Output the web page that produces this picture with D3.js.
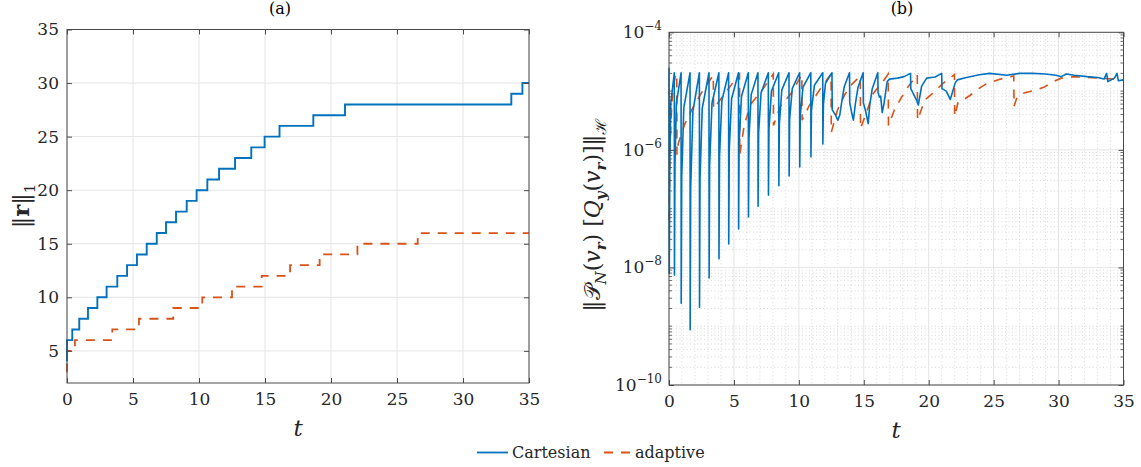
<!DOCTYPE html>
<html>
<head>
<meta charset="utf-8">
<script src="https://cdn.jsdelivr.net/npm/d3@7"></script>
<style>
  body { margin: 0; background: #fff; }
  svg text { font-family: "DejaVu Serif", "Liberation Serif", "Times New Roman", Times, "Noto Serif", serif; }
</style>
</head>
<body>
<svg width="1141" height="467"></svg>
<script>
// ---- data ----
// (a) number of terms ||r||_1 : step change times and levels
const cartStepT = [0, 0, 0.4, 0.93, 1.59, 2.3, 3.0, 3.81, 4.55, 5.3, 6.04, 6.8, 7.5, 8.26, 9.07, 9.82, 10.63, 11.52, 12.73, 13.96, 14.97, 16.1, 18.66, 21.06, 33.66, 34.5, 35];
const cartStepN = [4, 6, 7, 8, 9, 10, 11, 12, 13, 14, 15, 16, 17, 18, 19, 20, 21, 22, 23, 24, 25, 26, 27, 28, 29, 30, 30];
const adaptStepT = [0, 0, 0.6, 3.43, 5.45, 8.05, 10.25, 12.5, 14.75, 16.9, 19.14, 22.0, 26.57, 35];
const adaptStepN = [3, 5, 6, 7, 8, 9, 10, 11, 12, 13, 14, 15, 16, 16];

// (b) residual norm, [t, value]
const cartErr = [
  [0, 2.5e-5], [0.02, 7.9e-9], [0.06, 6.0e-7], [0.14, 6.3e-6], [0.41, 2.05e-5],
  [0.42, 7.4e-9], [0.46, 5.8e-7], [0.57, 6.2e-6], [0.93, 2.05e-5],
  [0.94, 2.45e-9], [0.98, 3.5e-7], [1.14, 5.2e-6], [1.62, 2.05e-5],
  [1.63, 8.7e-10], [1.67, 2.2e-7], [1.84, 4.5e-6], [2.34, 2.05e-5],
  [2.35, 2.1e-9], [2.39, 3.3e-7], [2.56, 5.1e-6], [3.08, 2.05e-5],
  [3.09, 6.6e-9], [3.13, 5.5e-7], [3.31, 6.2e-6], [3.84, 2.05e-5],
  [3.85, 1.4e-8], [3.89, 7.6e-7], [4.07, 6.8e-6], [4.59, 2.05e-5],
  [4.60, 2.5e-8], [4.64, 1.0e-6], [4.82, 7.4e-6], [5.35, 2.05e-5],
  [5.36, 4.5e-8], [5.40, 1.3e-6], [5.58, 8.1e-6], [6.11, 2.05e-5],
  [6.12, 7.2e-8], [6.16, 1.6e-6], [6.33, 8.7e-6], [6.85, 2.05e-5],
  [6.86, 1.1e-7], [6.90, 1.95e-6], [7.09, 9.3e-6], [7.65, 2.05e-5],
  [7.66, 1.7e-7], [7.70, 2.3e-6], [7.89, 1.0e-5], [8.45, 2.05e-5],
  [8.46, 2.45e-7], [8.50, 2.8e-6], [8.69, 1.05e-5], [9.24, 2.05e-5],
  [9.25, 3.6e-7], [9.29, 3.3e-6], [9.49, 1.1e-5], [10.06, 2.05e-5],
  [10.07, 5.1e-7], [10.11, 3.9e-6], [10.32, 1.17e-5], [10.92, 2.05e-5],
  [10.93, 7.6e-7], [10.97, 4.7e-6], [11.2, 1.26e-5], [11.84, 2.05e-5],
  [11.85, 1.26e-6], [11.89, 5.9e-6], [12.05, 1.35e-5], [12.55, 2.05e-5],
  [12.57, 4.8e-6], [12.8, 4.0e-6], [13.0, 3.2e-6], [13.15, 3.9e-6], [13.3, 6.5e-6], [13.5, 1.2e-5], [13.9, 2.05e-5],
  [13.92, 6.3e-6], [14.05, 4.5e-6], [14.2, 3.2e-6], [14.35, 6.0e-6], [14.55, 1.15e-5], [14.95, 2.05e-5],
  [14.97, 6.3e-6], [15.15, 4.5e-6], [15.34, 2.8e-6], [15.45, 5.5e-6], [15.65, 1.1e-5], [16.08, 2.05e-5],
  [16.1, 9.5e-6], [16.2, 7.9e-6], [16.3, 8.2e-6], [16.42, 4.3e-6], [16.55, 6.0e-6], [16.8, 1.45e-5],
  [16.98, 1.6e-5], [17.6, 1.66e-5], [18.1, 1.76e-5], [18.6, 2.0e-5],
  [18.62, 1.1e-5], [19.05, 7.1e-6], [19.2, 5.8e-6], [19.45, 1.2e-5], [19.84, 1.66e-5], [20.5, 1.74e-5], [21.0, 2.0e-5],
  [21.02, 1.1e-5], [21.35, 1.0e-5], [21.66, 7.2e-6], [22.04, 1.38e-5], [22.2, 1.55e-5], [22.9, 1.7e-5],
  [23.9, 1.9e-5], [24.7, 2.0e-5], [26.0, 1.86e-5], [27, 2.0e-5], [28, 2.0e-5], [29, 1.95e-5],
  [29.8, 1.86e-5], [30.2, 1.76e-5], [30.6, 1.95e-5], [31.2, 1.86e-5], [32.2, 1.76e-5], [33.0, 1.7e-5],
  [33.5, 1.6e-5], [33.7, 2.0e-5], [33.8, 1.45e-5], [34.3, 1.66e-5], [34.5, 2.0e-5], [34.6, 1.5e-5], [35, 1.55e-5]
];
const adaptErr = [
  [0, 6.3e-8], [0.05, 4.0e-7], [0.15, 3.2e-6], [0.3, 1.1e-5], [0.5, 1.9e-5], [0.6, 2.0e-5],
  [0.61, 8.3e-7], [0.72, 1.3e-6], [1.23, 2.8e-6], [1.87, 5.4e-6], [2.64, 1.05e-5], [3.41, 1.86e-5],
  [3.43, 5.0e-6], [4.3, 9.1e-6], [5.43, 1.95e-5],
  [5.45, 8.3e-7], [5.81, 2.8e-6], [6.37, 6.3e-6], [7.19, 1.05e-5], [8.03, 1.95e-5],
  [8.05, 2.6e-6], [8.57, 5.5e-6], [9.4, 9.1e-6], [10.23, 1.9e-5],
  [10.25, 3.2e-6], [10.77, 5.5e-6], [11.6, 1.05e-5], [12.48, 1.95e-5],
  [12.5, 2.0e-6], [12.98, 4.8e-6], [13.53, 8.7e-6], [14.08, 1.3e-5], [14.73, 1.8e-5],
  [14.75, 2.3e-6], [15.18, 4.2e-6], [15.73, 9.1e-6], [16.56, 1.55e-5], [16.88, 1.95e-5],
  [16.9, 2.6e-6], [17.36, 4.8e-6], [17.87, 7.6e-6], [18.4, 1.17e-5], [19.12, 1.9e-5],
  [19.14, 3.2e-6], [19.7, 7.1e-6], [20.3, 9.1e-6], [21.1, 1.35e-5], [21.98, 1.9e-5],
  [22.0, 3.7e-6], [22.27, 6.6e-6], [22.66, 7.1e-6], [23.2, 8.5e-6], [23.7, 1.05e-5], [24.5, 1.35e-5],
  [25.3, 1.55e-5], [26.0, 1.7e-5], [26.55, 1.8e-5],
  [26.57, 5.5e-6], [26.8, 7.9e-6], [27.2, 9.1e-6], [27.8, 9.8e-6], [28.3, 1.05e-5], [28.9, 1.17e-5],
  [29.6, 1.45e-5], [30.2, 1.66e-5], [31.2, 1.76e-5], [32.2, 1.7e-5], [33.2, 1.66e-5], [34.2, 1.6e-5], [35, 1.55e-5]
];

const xTicks = [0, 5, 10, 15, 20, 25, 30, 35];
const yTicksA = [5, 10, 15, 20, 25, 30, 35];
const yTicksB = [-10, -8, -6, -4];   // exponents

const blue = "#0072BD", orange = "#D95319";
const axisCol = "#4a4a4a", textCol = "#262626", gridCol = "#e4e4e4";
const serif = '"DejaVu Serif", "Liberation Serif", "Times New Roman", Times, "Noto Serif", serif';

const svg = d3.select("svg");

// ---------- panel (a) ----------
const A = {left: 67, right: 529, top: 29.5, bottom: 383};
const xA = d3.scaleLinear().domain([0, 35]).range([A.left, A.right]);
const yA = d3.scaleLinear().domain([2, 35]).range([A.bottom, A.top]);
const gA = svg.append("g");

gA.selectAll(".gx").data(xTicks).join("line")
  .attr("x1", d => xA(d)).attr("x2", d => xA(d))
  .attr("y1", A.top).attr("y2", A.bottom)
  .attr("stroke", gridCol).attr("stroke-width", 1);
gA.selectAll(".gy").data(yTicksA).join("line")
  .attr("y1", d => yA(d)).attr("y2", d => yA(d))
  .attr("x1", A.left).attr("x2", A.right)
  .attr("stroke", gridCol).attr("stroke-width", 1);

const stepLine = d3.line().curve(d3.curveStepAfter);
gA.append("path")
  .attr("d", stepLine(adaptStepT.map((t, i) => [xA(t), yA(adaptStepN[i])])))
  .attr("fill", "none").attr("stroke", orange).attr("stroke-width", 1.8)
  .attr("stroke-dasharray", "9,8");
gA.append("path")
  .attr("d", stepLine(cartStepT.map((t, i) => [xA(t), yA(cartStepN[i])])))
  .attr("fill", "none").attr("stroke", blue).attr("stroke-width", 1.9);

function boxAxes(g, x, y, P, yTickVals, yFmt) {
  g.append("g").attr("transform", `translate(0,${P.bottom})`)
    .call(d3.axisBottom(x).tickValues(xTicks).tickSize(-5).tickPadding(10))
    .call(s => s.select(".domain").remove());
  g.append("g").attr("transform", `translate(0,${P.top})`)
    .call(d3.axisTop(x).tickValues(xTicks).tickSize(-5).tickFormat(""))
    .call(s => s.select(".domain").remove());
  g.append("g").attr("transform", `translate(${P.left},0)`)
    .call(d3.axisLeft(y).tickValues(yTickVals).tickSize(-5).tickPadding(8).tickFormat(yFmt))
    .call(s => s.select(".domain").remove());
  g.append("g").attr("transform", `translate(${P.right},0)`)
    .call(d3.axisRight(y).tickValues(yTickVals).tickSize(-5).tickFormat(""))
    .call(s => s.select(".domain").remove());
  g.append("rect")
    .attr("x", P.left).attr("y", P.top)
    .attr("width", P.right - P.left).attr("height", P.bottom - P.top)
    .attr("fill", "none").attr("stroke", axisCol).attr("stroke-width", 1);
  g.selectAll("g").attr("font-family", serif);
  g.selectAll(".tick line").attr("stroke", axisCol);
  g.selectAll(".tick text")
    .attr("fill", textCol)
    .style("font-size", "17px");
}
boxAxes(gA, xA, yA, A, yTicksA, d3.format("d"));

// ---------- panel (b) ----------
const B = {left: 669, right: 1123.5, top: 32.3, bottom: 385};
const xB = d3.scaleLinear().domain([0, 35]).range([B.left, B.right]);
const yB = d3.scaleLog().domain([1e-10, 1e-4]).range([B.bottom, B.top]);
const gB = svg.append("g");

const minorY = [];
for (let k = -10; k < -4; k++) {
  for (let m = 1; m <= 9; m++) {
    if (m === 1 && k % 2 === 0) continue;
    minorY.push(m * Math.pow(10, k));
  }
}
const minorX = d3.range(1, 35).filter(d => d % 5 !== 0);

gB.selectAll(".mgy").data(minorY).join("line")
  .attr("y1", d => yB(d)).attr("y2", d => yB(d))
  .attr("x1", B.left).attr("x2", B.right)
  .attr("stroke", "#c9c9c9").attr("stroke-width", 0.7).attr("stroke-dasharray", "1,2.5");
gB.selectAll(".mgx").data(minorX).join("line")
  .attr("x1", d => xB(d)).attr("x2", d => xB(d))
  .attr("y1", B.top).attr("y2", B.bottom)
  .attr("stroke", "#c9c9c9").attr("stroke-width", 0.7).attr("stroke-dasharray", "1,2.5");
gB.selectAll(".gx").data(xTicks).join("line")
  .attr("x1", d => xB(d)).attr("x2", d => xB(d))
  .attr("y1", B.top).attr("y2", B.bottom)
  .attr("stroke", gridCol).attr("stroke-width", 1);
gB.selectAll(".gy").data(yTicksB).join("line")
  .attr("y1", d => yB(Math.pow(10, d))).attr("y2", d => yB(Math.pow(10, d)))
  .attr("x1", B.left).attr("x2", B.right)
  .attr("stroke", gridCol).attr("stroke-width", 1);

const errLine = d3.line().x(d => xB(d[0])).y(d => yB(d[1]));
gB.append("path").attr("d", errLine(adaptErr))
  .attr("fill", "none").attr("stroke", orange).attr("stroke-width", 1.6)
  .attr("stroke-dasharray", "9,8");
gB.append("path").attr("d", errLine(cartErr))
  .attr("fill", "none").attr("stroke", blue).attr("stroke-width", 1.6)
  .attr("stroke-linejoin", "round");

boxAxes(gB, xB, yB, B, yTicksB.map(e => Math.pow(10, e)), () => "");
// minor ticks on log axis
[B.left, B.right].forEach((x0, i) => {
  gB.selectAll(null).data(minorY).join("line")
    .attr("x1", x0).attr("x2", x0 + (i === 0 ? 3 : -3))
    .attr("y1", d => yB(d)).attr("y2", d => yB(d))
    .attr("stroke", axisCol).attr("stroke-width", 0.8);
});
// 10^k labels
const yLab = gB.selectAll(".ylab").data(yTicksB).join("text")
  .attr("x", B.left - 7).attr("y", d => yB(Math.pow(10, d)) + 6)
  .attr("text-anchor", "end").attr("fill", textCol)
  .style("font-size", "17px");
yLab.append("tspan").text("10");
yLab.append("tspan").attr("dy", -8).style("font-size", "12px").text(d => "\u2212" + (-d));

// ---------- titles, axis labels ----------
function rich(sel, parts, subSize) {
  let shift = 0;
  parts.forEach(p => {
    const ts = sel.append("tspan").text(p.s);
    const target = p.sub ? 6 : 0;
    if (target !== shift) { ts.attr("dy", target - shift); shift = target; }
    if (p.i) ts.style("font-style", "italic");
    if (p.b) ts.style("font-weight", "bold");
    if (p.sub) ts.style("font-size", subSize);
  });
}

svg.append("text").attr("x", 280).attr("y", 14).attr("text-anchor", "middle")
  .attr("fill", "#000").style("font-size", "16px").text("(a)");
svg.append("text").attr("x", 902).attr("y", 14).attr("text-anchor", "middle")
  .attr("fill", "#000").style("font-size", "16px").text("(b)");

svg.append("text").attr("x", 298).attr("y", 436).attr("text-anchor", "middle")
  .attr("fill", textCol).style("font-size", "23px").style("font-style", "italic").text("t");
svg.append("text").attr("x", 896).attr("y", 438).attr("text-anchor", "middle")
  .attr("fill", textCol).style("font-size", "23px").style("font-style", "italic").text("t");

const ylA = svg.append("text").attr("transform", "translate(29,206) rotate(-90)")
  .attr("text-anchor", "middle").attr("fill", textCol).style("font-size", "23px");
rich(ylA, [{s: "\u2016"}, {s: "r", b: true}, {s: "\u2016"}, {s: "1", sub: true}], "15px");

const ylB = svg.append("text").attr("transform", "translate(600,215) rotate(-90)")
  .attr("text-anchor", "middle").attr("fill", textCol).style("font-size", "22px");
rich(ylB, [
  {s: "\u2016"}, {s: "\uD835\uDCAB"}, {s: "N", i: true, sub: true}, {s: "("}, {s: "v", i: true},
  {s: "r", i: true, b: true, sub: true}, {s: ") ["}, {s: "Q", i: true}, {s: "y", i: true, b: true, sub: true},
  {s: "("}, {s: "v", i: true}, {s: "r", i: true, b: true, sub: true}, {s: ")]\u2016"}, {s: "\u210B", sub: true}
], "15px");

// ---------- legend ----------
const leg = svg.append("g");
leg.append("line").attr("x1", 477).attr("x2", 508).attr("y1", 452.5).attr("y2", 452.5)
  .attr("stroke", blue).attr("stroke-width", 1.8);
leg.append("text").attr("x", 512).attr("y", 458).attr("fill", textCol)
  .style("font-size", "16px").text("Cartesian");
leg.append("line").attr("x1", 604).attr("x2", 630).attr("y1", 452.5).attr("y2", 452.5)
  .attr("stroke", orange).attr("stroke-width", 1.8).attr("stroke-dasharray", "9,8");
leg.append("text").attr("x", 635).attr("y", 458).attr("fill", textCol)
  .style("font-size", "16px").text("adaptive");
</script>
</body>
</html>
